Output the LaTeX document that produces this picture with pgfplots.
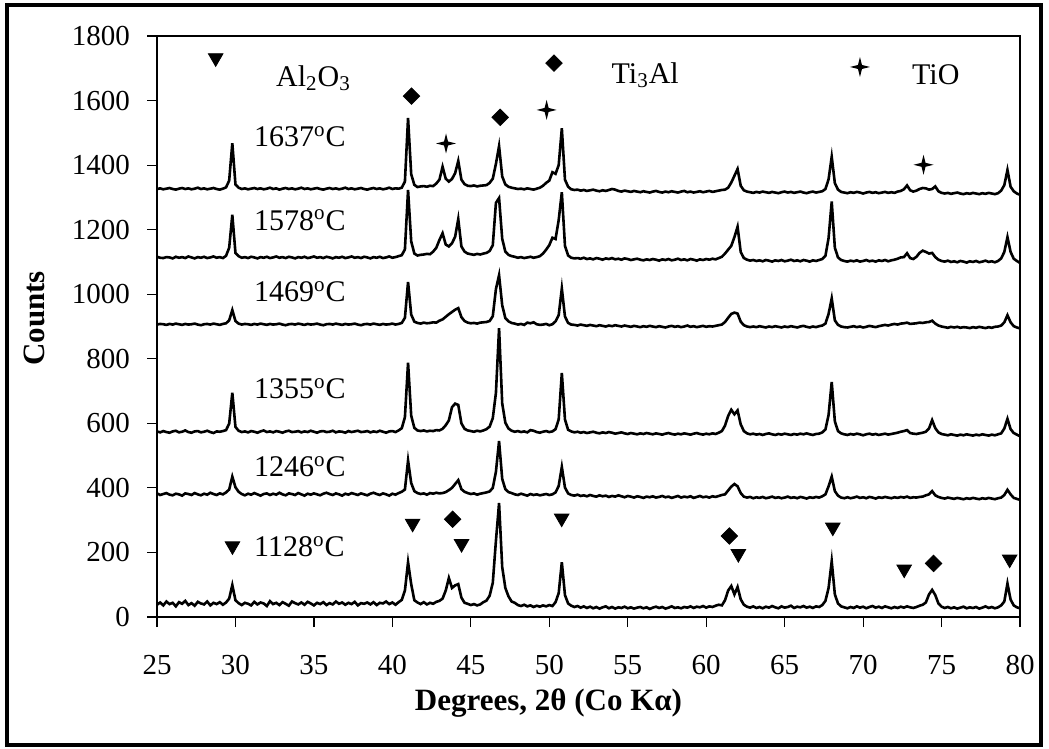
\documentclass[border=0pt]{standalone}
\usepackage{fontspec}
\setmainfont{Liberation Serif}
\usepackage{pgfplots}
\usepackage{pgfplotstable}
\pgfplotsset{compat=1.18}

% four pointed star for TiO
\pgfdeclareplotmark{fourstar}{%
  \pgfpathmoveto{\pgfqpoint{0pt}{\pgfplotmarksize}}%
  \pgfpathlineto{\pgfqpoint{0.2\pgfplotmarksize}{0.2\pgfplotmarksize}}%
  \pgfpathlineto{\pgfqpoint{\pgfplotmarksize}{0pt}}%
  \pgfpathlineto{\pgfqpoint{0.2\pgfplotmarksize}{-0.2\pgfplotmarksize}}%
  \pgfpathlineto{\pgfqpoint{0pt}{-\pgfplotmarksize}}%
  \pgfpathlineto{\pgfqpoint{-0.2\pgfplotmarksize}{-0.2\pgfplotmarksize}}%
  \pgfpathlineto{\pgfqpoint{-\pgfplotmarksize}{0pt}}%
  \pgfpathlineto{\pgfqpoint{-0.2\pgfplotmarksize}{0.2\pgfplotmarksize}}%
  \pgfpathclose
  \pgfusepathqfill}

% columns: A=1637C B=1578C C=1469C D=1355C E=1246C F=1128C
\pgfplotstableread{
x A B C D E F
25.0 1326 1116 906 575 383 38
25.2 1328 1113 908 572 378 45
25.4 1325 1112 907 576 381 36
25.6 1327 1115 905 573 384 48
25.8 1329 1114 908 571 379 40
26.0 1326 1111 906 575 377 44
26.2 1324 1116 909 577 382 33
26.4 1327 1113 907 572 380 46
26.6 1329 1115 905 574 376 41
26.8 1326 1112 908 578 383 50
27.0 1328 1117 906 573 381 37
27.2 1325 1114 907 571 378 43
27.4 1327 1111 909 575 384 35
27.6 1330 1115 906 576 380 47
27.8 1326 1113 904 572 377 42
28.0 1328 1116 907 574 382 39
28.2 1325 1112 908 577 379 48
28.4 1327 1114 906 573 385 36
28.6 1329 1117 909 570 381 44
28.8 1326 1113 907 575 378 40
29.0 1324 1115 905 574 383 46
29.2 1327 1112 908 576 380 38
29.4 1331 1119 910 579 386 45
29.6 1352 1144 919 599 395 57
29.8 1468 1246 951 695 435 99
30.0 1340 1128 917 589 402 52
30.2 1330 1118 909 577 388 43
30.4 1326 1113 906 573 381 37
30.6 1328 1115 908 575 377 44
30.8 1325 1112 907 572 382 41
31.0 1327 1116 905 576 379 36
31.2 1329 1114 908 574 384 47
31.4 1326 1111 906 571 380 39
31.6 1328 1115 909 575 376 45
31.8 1325 1113 907 578 381 42
32.0 1327 1116 905 573 383 34
32.2 1330 1112 908 575 378 49
32.4 1326 1114 906 572 382 40
32.6 1328 1117 907 576 379 44
32.8 1324 1113 909 574 385 37
33.0 1327 1115 906 571 380 46
33.2 1329 1112 904 575 377 41
33.4 1326 1116 907 577 383 35
33.6 1328 1114 908 573 381 48
33.8 1325 1111 906 574 378 43
34.0 1327 1115 909 576 384 39
34.2 1330 1113 907 572 380 45
34.4 1326 1116 905 575 376 38
34.6 1328 1112 908 573 382 47
34.8 1325 1114 906 577 379 42
35.0 1327 1117 907 574 383 36
35.2 1329 1113 909 571 380 44
35.4 1326 1115 906 575 377 40
35.6 1324 1112 904 576 382 46
35.8 1327 1116 907 573 385 37
36.0 1329 1114 908 574 381 43
36.2 1326 1111 906 577 378 39
36.4 1328 1115 909 572 383 48
36.6 1325 1113 907 575 380 41
36.8 1327 1116 905 574 376 45
37.0 1330 1112 908 571 382 38
37.2 1326 1114 906 576 379 44
37.4 1328 1117 907 573 384 40
37.6 1325 1113 909 575 381 47
37.8 1327 1115 906 577 378 36
38.0 1329 1112 904 573 383 43
38.2 1326 1116 907 574 380 41
38.4 1324 1114 908 576 377 45
38.6 1327 1111 906 572 382 39
38.8 1329 1115 909 575 385 46
39.0 1326 1113 907 573 381 37
39.2 1328 1116 905 577 378 44
39.4 1325 1112 908 574 383 42
39.6 1327 1114 906 571 380 48
39.8 1330 1117 907 575 376 40
40.0 1326 1113 909 576 382 45
40.2 1328 1115 906 573 379 38
40.4 1327 1118 908 578 384 46
40.6 1330 1121 911 585 388 53
40.8 1349 1139 927 619 395 82
41.0 1546 1323 1038 788 485 170
41.2 1372 1164 937 624 415 102
41.4 1339 1126 915 586 390 52
41.6 1332 1120 911 578 384 45
41.8 1334 1122 909 576 381 40
42.0 1335 1123 912 578 383 46
42.2 1333 1125 910 575 379 39
42.4 1336 1124 911 577 384 44
42.6 1335 1132 913 576 382 41
42.8 1343 1144 912 579 385 47
43.0 1355 1168 918 578 383 50
43.2 1395 1189 922 583 384 57
43.4 1358 1154 930 594 387 82
43.6 1349 1148 938 609 393 121
43.8 1357 1158 945 650 400 90
44.0 1375 1178 952 661 412 98
44.2 1413 1233 957 657 424 102
44.4 1355 1148 929 600 396 60
44.6 1341 1132 917 583 388 44
44.8 1336 1126 912 578 384 41
45.0 1335 1124 910 576 381 37
45.2 1337 1122 911 574 383 40
45.4 1334 1125 909 577 379 36
45.6 1336 1123 912 575 382 39
45.8 1337 1126 913 578 384 46
46.0 1338 1128 914 582 386 51
46.2 1345 1134 917 590 389 66
46.4 1358 1152 932 616 400 106
46.6 1404 1283 1016 694 450 236
46.8 1459 1298 1059 895 545 353
47.0 1365 1172 966 662 428 155
47.2 1340 1132 926 602 396 90
47.4 1333 1122 916 584 387 64
47.6 1330 1118 911 577 384 48
47.8 1328 1116 909 574 380 44
48.0 1326 1113 906 576 378 37
48.2 1327 1115 908 573 382 34
48.4 1325 1112 905 575 379 38
48.6 1328 1114 912 572 376 33
48.8 1326 1116 910 579 381 36
49.0 1324 1113 913 577 378 31
49.2 1327 1115 907 573 380 35
49.4 1330 1118 905 571 377 32
49.6 1336 1126 906 574 379 36
49.8 1345 1138 908 576 381 33
50.0 1352 1152 904 573 378 37
50.2 1378 1175 907 575 380 34
50.4 1373 1171 916 582 386 46
50.6 1400 1230 935 612 406 74
50.8 1514 1316 1018 756 465 170
51.0 1355 1150 931 612 401 68
51.2 1333 1120 911 580 383 42
51.4 1325 1113 906 575 378 35
51.6 1323 1111 905 572 376 31
51.8 1324 1112 903 574 379 34
52.0 1321 1110 906 571 375 29
52.2 1323 1113 904 573 377 33
52.4 1320 1109 902 570 374 28
52.6 1322 1111 905 572 378 32
52.8 1324 1108 903 574 375 27
53.0 1321 1112 901 571 373 31
53.2 1319 1110 904 569 377 26
53.4 1322 1107 902 572 374 30
53.6 1320 1111 900 570 376 33
53.8 1323 1109 903 573 372 27
54.0 1326 1112 901 571 375 31
54.2 1324 1108 904 568 373 26
54.4 1320 1110 902 570 377 30
54.6 1318 1107 900 572 374 28
54.8 1321 1111 903 569 371 32
55.0 1319 1109 901 567 375 27
55.2 1317 1106 899 570 373 30
55.4 1320 1108 902 568 370 26
55.6 1318 1110 900 566 374 29
55.8 1316 1107 898 569 372 31
56.0 1319 1105 901 567 369 27
56.2 1317 1108 899 570 373 30
56.4 1315 1106 902 568 371 25
56.6 1318 1109 900 566 374 29
56.8 1320 1107 898 569 370 32
57.0 1317 1104 901 567 372 28
57.2 1315 1108 899 565 375 31
57.4 1318 1106 897 568 371 26
57.6 1316 1109 900 570 373 29
57.8 1319 1105 902 567 369 33
58.0 1317 1107 899 565 372 28
58.2 1315 1110 901 568 375 30
58.4 1318 1106 898 566 370 27
58.6 1320 1108 900 569 373 31
58.8 1316 1105 903 567 371 29
59.0 1318 1109 899 565 374 33
59.2 1315 1107 901 568 369 28
59.4 1317 1104 898 570 372 32
59.6 1319 1108 900 567 375 30
59.8 1316 1106 902 565 371 34
60.0 1318 1109 899 568 373 29
60.2 1320 1107 901 566 370 33
60.4 1317 1110 900 569 374 31
60.6 1319 1108 902 567 372 35
60.8 1321 1112 904 571 375 38
61.0 1323 1116 906 576 378 36
61.2 1324 1126 914 593 380 52
61.4 1330 1138 927 623 392 82
61.6 1346 1150 939 642 404 96
61.8 1367 1177 943 628 412 70
62.0 1388 1209 940 640 405 93
62.2 1336 1131 915 597 384 55
62.4 1322 1112 904 576 373 38
62.6 1318 1107 900 569 370 32
62.8 1316 1104 898 566 372 29
63.0 1314 1106 900 568 368 33
63.2 1317 1103 898 565 371 28
63.4 1315 1105 901 567 369 31
63.6 1318 1102 899 564 372 27
63.8 1316 1106 897 567 368 32
64.0 1314 1104 900 569 370 29
64.2 1317 1101 898 566 373 34
64.4 1315 1105 901 564 369 30
64.6 1313 1103 899 567 371 27
64.8 1316 1106 897 565 368 33
65.0 1318 1102 900 568 370 29
65.2 1315 1104 898 566 373 31
65.4 1317 1107 901 564 369 35
65.6 1314 1103 899 567 371 28
65.8 1316 1105 897 565 368 32
66.0 1318 1102 900 568 372 30
66.2 1315 1106 902 566 370 34
66.4 1313 1104 899 569 367 29
66.6 1316 1101 897 566 371 32
66.8 1318 1105 900 564 369 28
67.0 1315 1103 898 567 372 33
67.2 1317 1106 901 568 370 31
67.4 1319 1109 903 572 374 37
67.6 1326 1119 909 581 380 50
67.8 1356 1174 939 626 405 90
68.0 1426 1287 987 728 435 173
68.2 1344 1144 919 606 390 70
68.4 1324 1114 905 576 376 42
68.6 1317 1106 900 569 370 33
68.8 1315 1103 898 566 368 30
69.0 1313 1101 897 564 371 27
69.2 1316 1104 899 567 368 31
69.4 1314 1102 901 565 370 28
69.6 1317 1105 898 568 373 33
69.8 1315 1101 900 566 369 29
70.0 1312 1103 897 563 371 32
70.2 1315 1106 899 566 368 27
70.4 1317 1102 902 568 372 31
70.6 1314 1104 900 565 370 34
70.8 1316 1101 898 567 367 29
71.0 1313 1105 901 564 371 32
71.2 1315 1103 903 566 369 28
71.4 1317 1106 905 568 372 33
71.6 1314 1102 903 565 370 30
71.8 1316 1105 906 567 368 27
72.0 1314 1107 908 569 371 31
72.2 1318 1110 906 571 369 28
72.4 1320 1114 909 574 372 32
72.6 1325 1115 910 576 370 29
72.8 1337 1127 912 579 373 33
73.0 1322 1112 908 570 369 30
73.2 1318 1109 909 568 371 28
73.4 1321 1116 910 567 370 31
73.6 1326 1128 912 569 372 35
73.8 1329 1135 911 571 373 38
74.0 1328 1131 913 574 377 45
74.2 1324 1126 914 584 380 70
74.4 1326 1128 918 610 390 84
74.6 1334 1115 909 585 377 68
74.8 1319 1107 903 572 372 42
75.0 1314 1103 900 567 369 32
75.2 1312 1101 898 565 367 28
75.4 1314 1104 896 563 370 31
75.6 1311 1100 899 566 368 27
75.8 1313 1102 897 564 366 30
76.0 1315 1099 899 562 369 26
76.2 1312 1103 896 565 367 29
76.4 1310 1101 898 563 365 32
76.6 1313 1098 897 566 368 27
76.8 1311 1102 895 564 366 30
77.0 1314 1100 898 562 369 28
77.2 1312 1103 896 565 367 31
77.4 1310 1099 899 563 365 26
77.6 1313 1101 897 566 368 29
77.8 1311 1104 895 564 366 33
78.0 1314 1100 898 562 369 28
78.2 1312 1102 896 565 367 31
78.4 1310 1099 899 563 365 27
78.6 1313 1103 900 566 368 30
78.8 1321 1111 903 569 370 36
79.0 1338 1131 913 584 378 48
79.2 1385 1177 935 614 394 104
79.4 1333 1131 913 582 380 54
79.6 1319 1110 901 570 369 36
79.8 1312 1103 897 565 366 30
80.0 1308 1097 894 560 363 27
}\xrd

\begin{document}
\begin{tikzpicture}
\begin{axis}[
  scale only axis,
  width=431.5pt, height=290.5pt,
  xmin=25, xmax=80, ymin=0, ymax=1800,
  xtick={25,30,...,80},
  ytick={0,200,...,1800},
  tick align=outside,
  xtick pos=bottom, ytick pos=left,
  major tick length=5pt,
  axis line style={line width=0.6pt},
  tick style={line width=0.6pt, black},
  scaled ticks=false,
  /pgf/number format/1000 sep={},
  /pgf/number format/assume math mode=true,
  tick label style={font=\fontsize{14.5}{17}\selectfont},
  yticklabel style={xshift=-5pt},
  xticklabel style={yshift=-10.5pt},
  xlabel={\textbf{Degrees, 2θ (Co Kα)}},
  ylabel={\textbf{Counts}},
  label style={font=\fontsize{15.5}{18}\selectfont},
  xlabel style={at={(rel axis cs:0.5,0)}, anchor=center, xshift=-20pt, yshift=-43pt},
  ylabel style={at={(rel axis cs:0,0.5)}, anchor=center, yshift=61.5pt, xshift=4pt},
  clip mode=individual,
]
\addplot[black, line width=1.3pt] table[x=x, y=A] {\xrd};
\addplot[black, line width=1.3pt] table[x=x, y=B] {\xrd};
\addplot[black, line width=1.3pt] table[x=x, y=C] {\xrd};
\addplot[black, line width=1.3pt] table[x=x, y=D] {\xrd};
\addplot[black, line width=1.3pt] table[x=x, y=E] {\xrd};
\addplot[black, line width=1.3pt] table[x=x, y=F] {\xrd};

% Al2O3 markers
\addplot[only marks, mark=triangle*, mark size=4.2pt, mark options={rotate=180, fill=black, draw=black}]
coordinates {(28.74,1732) (29.81,220) (41.29,290) (44.41,227) (50.79,306)
  (62.05,196) (68.07,278) (72.62,148) (79.34,179)};
% Ti3Al markers
\addplot[only marks, mark=square*, mark size=2.9pt, mark options={rotate=45, fill=black, draw=black}]
coordinates {(50.3,1716) (41.22,1614) (46.87,1548) (43.84,303) (61.48,251) (74.49,166)};
% TiO markers
\addplot[only marks, mark=fourstar, mark size=5pt, black]
coordinates {(69.8,1704) (43.42,1467) (49.83,1571) (73.85,1401)};

\begin{scope}[every node/.style={font=\fontsize{15}{17}\selectfont, anchor=west, inner sep=0pt}]
\node at (axis cs:32.57,1670) {Al\textsubscript{2}O\textsubscript{3}};
\node at (axis cs:53.95,1679) {Ti\textsubscript{3}Al};
\node at (axis cs:73.1,1679) {TiO};
\node at (axis cs:31.17,1488) {1637\textsuperscript{o}C};
\node at (axis cs:31.17,1230) {1578\textsuperscript{o}C};
\node at (axis cs:31.17,1008) {1469\textsuperscript{o}C};
\node at (axis cs:31.17,708) {1355\textsuperscript{o}C};
\node at (axis cs:31.17,466) {1246\textsuperscript{o}C};
\node at (axis cs:31.17,218) {1128\textsuperscript{o}C};
\end{scope}

% outer frame
\draw[line width=1.6pt] ([xshift=-75pt,yshift=-64pt]rel axis cs:0,0) rectangle ([xshift=10.5pt,yshift=15.5pt]rel axis cs:1,1);
\end{axis}
\pgfresetboundingbox
\path[use as bounding box] ([shift={(-78.5pt,-65.5pt)}]current axis.south west) rectangle ([shift={(14.5pt,18pt)}]current axis.north east);
\end{tikzpicture}
\end{document}
